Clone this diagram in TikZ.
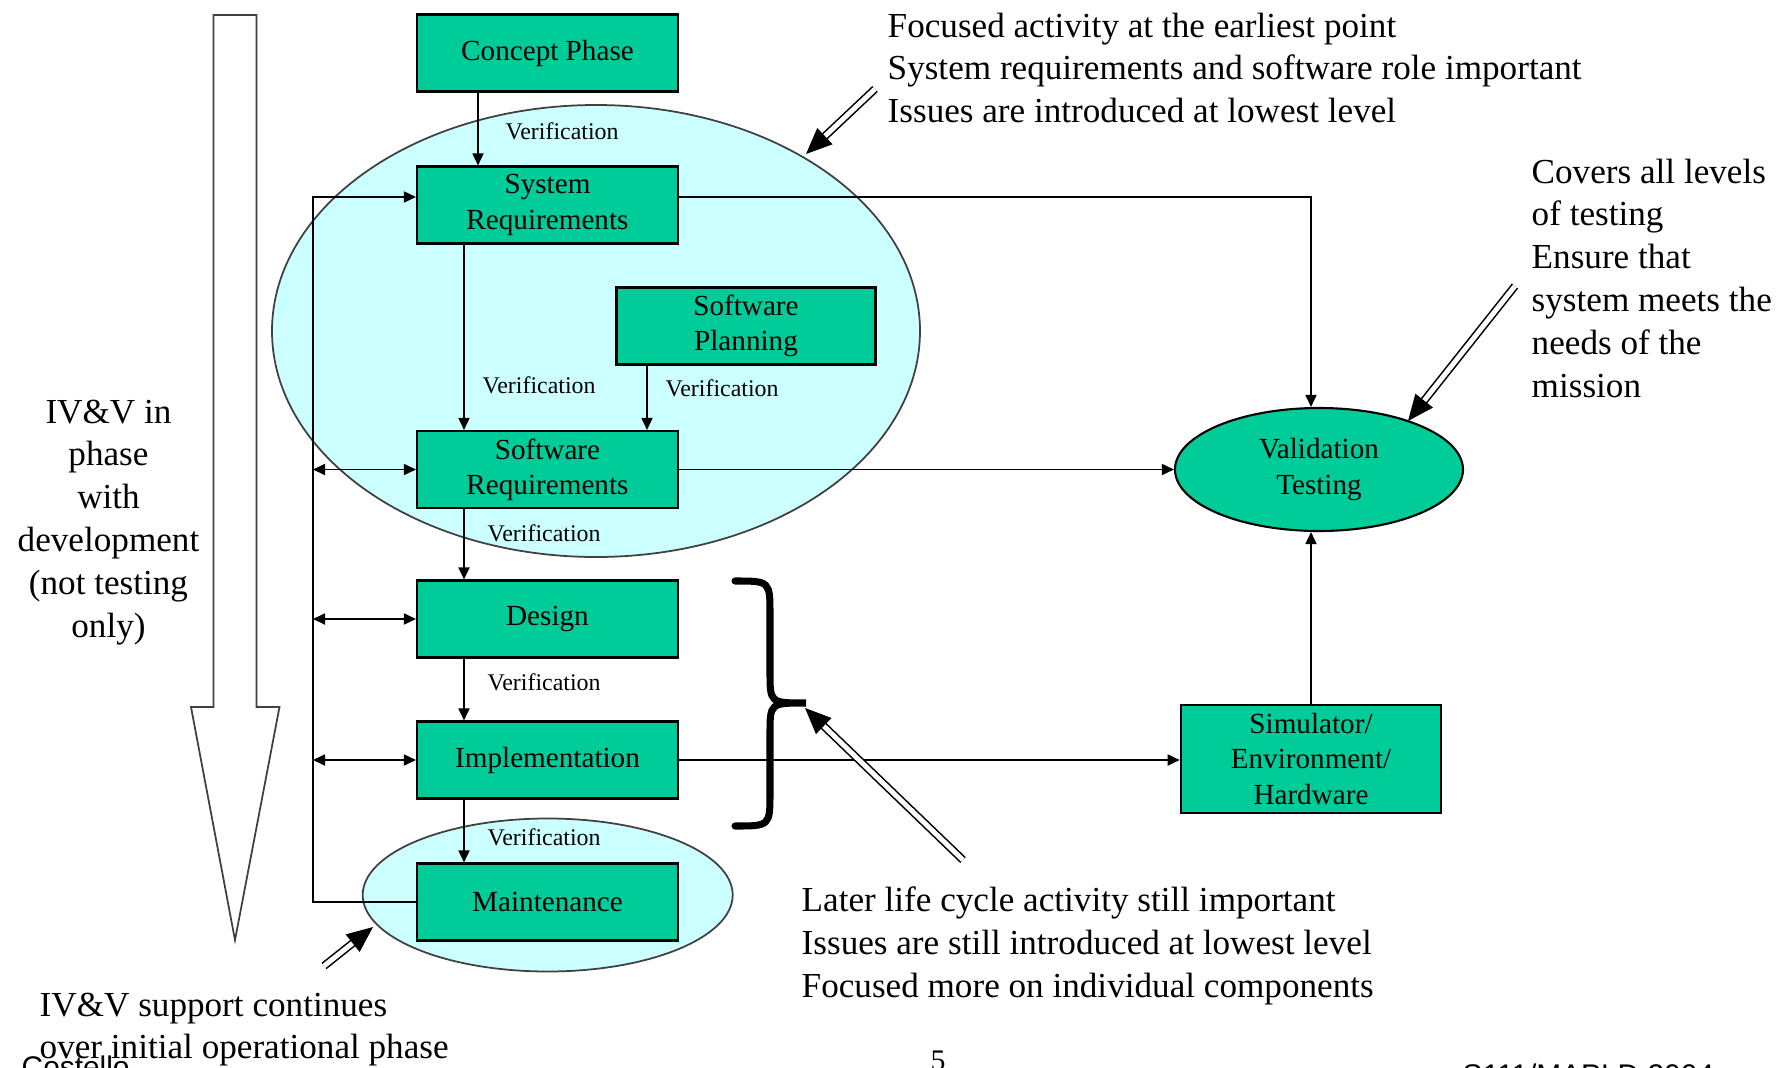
\documentclass[tikz,border=0pt]{standalone}
\usepackage{fontspec}
\setmainfont{Liberation Serif}
\setsansfont{Liberation Sans}
\usetikzlibrary{arrows.meta,shapes.geometric}

\begin{document}
\begin{tikzpicture}[font=\rmfamily]
  \definecolor{phase}{HTML}{00CC99}
  \definecolor{wash}{HTML}{CCFFFF}
  \definecolor{rim}{HTML}{404040}
  \path[use as bounding box] (0,0) rectangle (17.92,-10.68);

  % The two washes sit under every box and connector.
  \filldraw[fill=wash,draw=rim,line width=.5pt] (5.96,-3.31) ellipse (3.24 and 2.26);
  \filldraw[fill=wash,draw=rim,line width=.5pt] (5.477,-8.95) ellipse (1.85 and .765);

  % Hollow arrow down the left edge.
  \draw[black!75,line width=.5pt,fill=white] (2.135,-.15) -- (2.565,-.15) -- (2.565,-7.07)
    -- (2.795,-7.07) -- (2.35,-9.40) -- (1.91,-7.07) -- (2.135,-7.07) -- cycle;

  \tikzset{box/.style={draw,fill=phase,line width=.6pt,minimum width=2.61cm,minimum height=.77cm,
             inner sep=1pt,align=center,font=\fontsize{8.3}{10}\selectfont},
           flow/.style={line width=.5pt,-{Triangle[length=1.2mm,width=1.1mm]}},
           both/.style={line width=.5pt,{Triangle[length=1.2mm,width=1.1mm]}-{Triangle[length=1.2mm,width=1.1mm]}},
           tag/.style={font=\fontsize{6.8}{8}\selectfont,inner sep=0pt,anchor=west},
           note/.style={font=\fontsize{10}{12.2}\selectfont,align=left,inner sep=0pt,anchor=north west},
           pointer/.style={double,double distance=1.4pt,line width=.45pt,-{Triangle[length=2.6mm,width=2.2mm]}},
           foot/.style={font=\sffamily\fontsize{8.5}{10}\selectfont,inner sep=0pt,anchor=north west}}

  \node[box] (concept) at (5.475,-.53) {Concept Phase};
  \node[box] (sysreq) at (5.475,-2.05) {System\\Requirements};
  \node[box,minimum width=2.59cm] (swplan) at (7.46,-3.26) {Software\\Planning};
  \node[box] (swreq) at (5.475,-4.695) {Software\\Requirements};
  \node[box] (design) at (5.475,-6.19) {Design};
  \node[box] (impl) at (5.475,-7.60) {Implementation};
  \node[box] (maint) at (5.475,-9.02) {Maintenance};
  \node[box,ellipse,minimum width=2.88cm,minimum height=1.23cm] (valid) at (13.19,-4.695) {Validation\\Testing};
  \node[box,minimum width=2.605cm,minimum height=1.08cm] (sim) at (13.11,-7.59) {Simulator/\\Environment/\\Hardware};

  % Verification steps down the life cycle.
  \draw[flow] ([xshift=-.695cm]concept.south) -- ([xshift=-.695cm]sysreq.north);
  \draw[flow] ([xshift=-.835cm]sysreq.south) -- ([xshift=-.835cm]swreq.north);
  \draw[flow] ([xshift=-.99cm]swplan.south) -- ([xshift=-.99cm]swplan.south |- swreq.north);
  \draw[flow] ([xshift=-.835cm]swreq.south) -- ([xshift=-.835cm]design.north);
  \draw[flow] ([xshift=-.835cm]design.south) -- ([xshift=-.835cm]impl.north);
  \draw[flow] ([xshift=-.835cm]impl.south) -- ([xshift=-.835cm]maint.north);
  \node[tag] (v1) at (5.05,-1.31) {Verification};
  \node[tag] (v2) at (4.82,-3.85) {Verification};
  \node[tag] (v3) at (6.65,-3.88) {Verification};
  \node[tag] (v4) at (4.87,-5.33) {Verification};
  \node[tag] (v5) at (4.87,-6.82) {Verification};
  \node[tag] (v6) at (4.87,-8.37) {Verification};

  % Feedback bus on the left.
  \coordinate (bustop) at (3.13,-1.97);
  \draw[flow] (maint.west) -| (bustop) -- (bustop -| sysreq.west);
  \draw[both] (bustop |- swreq.west) -- (swreq.west);
  \draw[both] (bustop |- design.west) -- (design.west);
  \draw[both] (bustop |- impl.west) -- (impl.west);

  % Into validation.
  \coordinate (drop) at (13.11,-1.97);
  \draw[flow] (bustop -| sysreq.east) -- (drop) -- (drop |- valid.north);
  \draw[flow] (swreq.east) -- (valid.west);
  \draw[flow] (impl.east) -- (impl.east -| sim.west);
  \draw[flow] (sim.north) -- (sim.north |- valid.south);

  \draw[line width=2pt,line cap=round] (7.35,-5.81) .. controls (7.70,-5.81) .. (7.70,-6.15)
    -- (7.70,-6.72) .. controls (7.70,-7.03) .. (8.06,-7.03) .. controls (7.70,-7.03) .. (7.70,-7.34)
    -- (7.70,-7.92) .. controls (7.70,-8.26) .. (7.35,-8.26);

  \draw[pointer] (8.75,-.89) -- (8.06,-1.54);
  \draw[pointer] (15.15,-2.86) -- (14.08,-4.21);
  \draw[pointer] (9.63,-8.60) -- (8.05,-7.08);
  \draw[pointer] (3.24,-9.66) -- (3.73,-9.27);

  \node[note] (early) at (8.87,-.12) {Focused activity at the earliest point\\System requirements and software role important\\Issues are introduced at lowest level};
  \node[note] (covers) at (15.31,-1.58) {Covers all levels\\of testing\\Ensure that\\system meets the\\needs of the\\mission};
  \node[note,align=center,anchor=north] (inphase) at (1.085,-3.99) {IV\&V in\\phase\\with\\development\\(not testing\\only)};
  \node[note] (later) at (8.01,-8.86) {Later life cycle activity still important\\Issues are still introduced at lowest level\\Focused more on individual components};
  \node[note] (support) at (.39,-9.92) {IV\&V support continues\\over initial operational phase};

  \node[foot] (author) at (.21,-10.55) {Costello};
  \node[foot,font=\fontsize{8.5}{10}\selectfont] (page) at (9.30,-10.50) {5};
  \node[foot] (venue) at (14.62,-10.63) {S111/MAPLD 2004};
\end{tikzpicture}
\end{document}
